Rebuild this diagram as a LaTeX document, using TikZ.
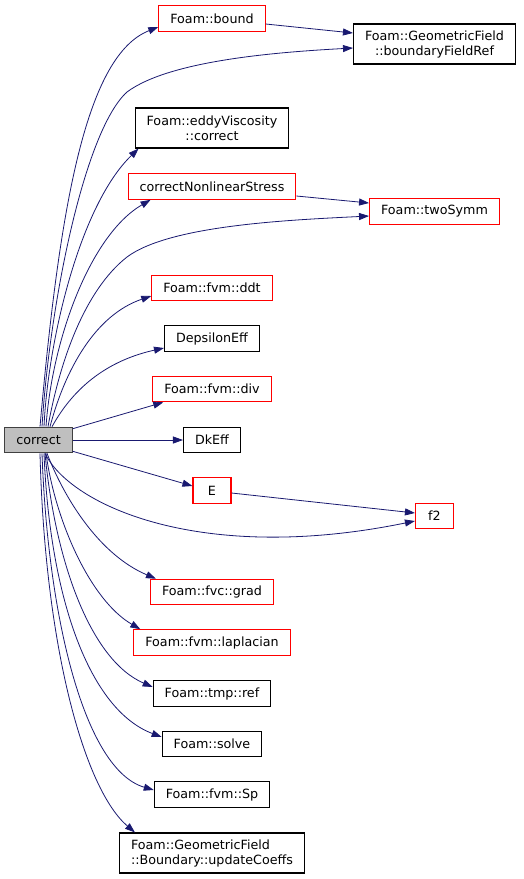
\documentclass[tikz,border=0pt]{standalone}
\usepackage{fontspec}
\setmainfont{DejaVu Sans}
\usetikzlibrary{arrows.meta}
\definecolor{edgeblue}{RGB}{25,25,112}
\definecolor{trunc}{RGB}{255,0,0}
\definecolor{selffill}{RGB}{191,191,191}
\definecolor{selfdraw}{RGB}{64,64,64}
\tikzset{
  every picture/.style={line width=0.8pt, font=\fontsize{12.7}{15}\selectfont},
  fn/.style={draw=black, fill=white, line width=1.1pt, inner xsep=11.5pt, inner ysep=2pt, minimum width=38pt, minimum height=25.5pt, align=center},
  fntwo/.style={fn, minimum height=40pt},
  cut/.style={fn, draw=trunc},
  self/.style={fn, fill=selffill, draw=selfdraw},
  call/.style={-{Triangle[length=10pt,width=7pt]}, color=edgeblue, line width=0.8pt},
}
\begin{document}
\begin{tikzpicture}[x=1pt, y=-1pt]
  \useasboundingbox (0,0) rectangle (524,879);
  % caller
  \node[self] (correct) at (38.5,440) {correct};
  % callees, middle column
  \node[cut] (bound) at (212,18.5) {Foam::bound};
  \node[fntwo] (eddy) at (212,128) {Foam::eddyViscosity\\::correct};
  \node[cut] (nonlin) at (212,186.5) {correctNonlinearStress};
  \node[cut] (ddt) at (212,288) {Foam::fvm::ddt};
  \node[fn] (deps) at (212,338.5) {DepsilonEff};
  \node[cut] (div) at (212,389) {Foam::fvm::div};
  \node[fn] (dk) at (212,440) {DkEff};
  \node[cut] (E) at (212,490.5) {E};
  \node[cut] (grad) at (212,592) {Foam::fvc::grad};
  \node[cut] (lap) at (212,642.5) {Foam::fvm::laplacian};
  \node[fn] (tmpref) at (212,693.5) {Foam::tmp::ref};
  \node[fn] (solve) at (212,744) {Foam::solve};
  \node[fn] (sp) at (212,794.5) {Foam::fvm::Sp};
  \node[fntwo, align=left] (upd) at (212,853) {Foam::GeometricField\\::Boundary::updateCoeffs};
  % callees, right column
  \node[fntwo] (bfr) at (434.5,44) {Foam::GeometricField\\::boundaryFieldRef};
  \node[cut] (twosymm) at (434.5,211.5) {Foam::twoSymm};
  \node[cut] (f2) at (434.5,516) {f2};

  % upward calls
  \draw[call] ([xshift=1.5pt]correct.north) .. controls (60,200) and (87,55) .. ([yshift=-8.5pt]bound.west);
  \draw[call] ([xshift=3.5pt]correct.north) .. controls (50,300) and (85,130) .. (127,92)
    .. controls (170,60) and (280,52) .. ([yshift=-4pt]bfr.west);
  \draw[call] ([xshift=5.5pt]correct.north) .. controls (48,340) and (80,205) .. ([xshift=4pt]eddy.south west);
  \draw[call] ([xshift=7.5pt]correct.north) .. controls (52,340) and (90,235) .. ([xshift=23pt]nonlin.south west);
  \draw[call] ([xshift=9.5pt]correct.north) .. controls (60,360) and (85,290) .. (127,257)
    .. controls (170,225) and (290,220) .. ([yshift=-4.5pt]twosymm.west);
  \draw[call] ([xshift=11.5pt]correct.north) .. controls (65,370) and (95,315) .. ([yshift=-8pt]ddt.west);
  \draw[call] ([xshift=13.5pt]correct.north) .. controls (75,385) and (110,360) .. ([yshift=-9.5pt]deps.west);
  \draw[call] ([yshift=-2pt]correct.north east) -- ([xshift=11pt]div.south west);
  \draw[call] (correct.east) -- (dk.west);
  \draw[call] ([yshift=2pt]correct.south east) -- ([yshift=4.5pt]E.west);
  % second level
  \draw[call] ([yshift=-5.5pt]bound.east) -- ([yshift=11pt]bfr.west);
  \draw[call] ([yshift=-9.5pt]nonlin.east) -- ([yshift=8.5pt]twosymm.west);
  \draw[call] ([yshift=-2.5pt]E.east) -- ([yshift=3pt]f2.west);
  % downward calls
  \draw[call] ([xshift=6.5pt]correct.south) .. controls (70,505) and (200,565) .. ([yshift=-5pt]f2.west);
  \draw[call] ([xshift=8.5pt]correct.south) .. controls (65,500) and (100,555) .. ([xshift=6pt]grad.north west);
  \draw[call] ([xshift=7.5pt]correct.south) .. controls (55,520) and (90,600) .. ([xshift=7pt]lap.north west);
  \draw[call] ([xshift=6.5pt]correct.south) .. controls (55,560) and (90,660) .. ([yshift=6.5pt]tmpref.west);
  \draw[call] ([xshift=5.5pt]correct.south) .. controls (50,600) and (90,710) .. ([yshift=7pt]solve.west);
  \draw[call] ([xshift=3.5pt]correct.south) .. controls (48,620) and (85,770) .. ([yshift=4.5pt]sp.west);
  \draw[call] ([xshift=1.5pt]correct.south) .. controls (45,650) and (85,790) .. ([xshift=16pt]upd.north west);
\end{tikzpicture}
\end{document}
